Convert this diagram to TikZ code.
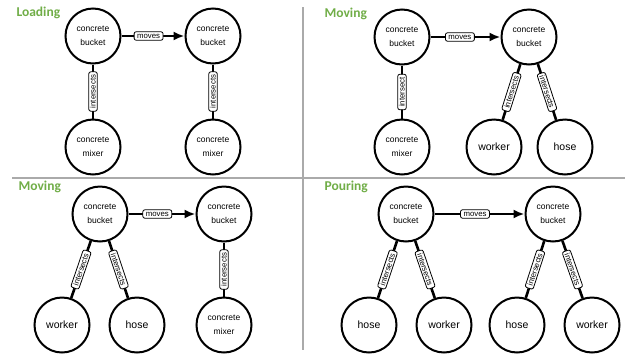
\documentclass[tikz,border=0pt]{standalone}
\usepackage{fontspec}
\setmainfont{Liberation Sans}
\newfontfamily\titlefont{Carlito}
\usetikzlibrary{arrows.meta}
\definecolor{titlegreen}{RGB}{112,173,71}
\definecolor{rulegray}{RGB}{170,170,170}
\tikzset{
	ent/.style={draw, circle, line width=2pt, minimum size=55pt, inner sep=0pt, align=center, font=\fontsize{8.5}{14}\selectfont},
	big/.style={font=\fontsize{10.5}{12}\selectfont},
	rel/.style={line width=2.6pt},
	moves/.style={rel, -{Latex[length=11pt,width=9pt]}},
	lbl/.style={draw, fill=white, rounded corners=2pt, line width=0.8pt, inner xsep=3pt, inner ysep=1.5pt, text height=5.4pt, text depth=0pt, font=\fontsize{7.8}{8}\selectfont},
	ttl/.style={anchor=west, text=titlegreen, font=\titlefont\bfseries\fontsize{13.5}{14}\selectfont},
	rule/.style={rulegray, line width=2pt}
}

\begin{document}
\begin{tikzpicture}[x=1pt, y=-1pt]
		%%%%% START %%%%%
		\useasboundingbox (0, 0) rectangle (629, 354);
		\draw[rule] (12, 178) -- (625, 178);
		\draw[rule] (303, 7) -- (303, 350);
		
		\node[ttl] (tLoad) at (13, 13) {Loading};
		\node[ent] (a1) at (93, 36) {concrete\\bucket};
		\node[ent] (a2) at (213, 36) {concrete\\bucket};
		\node[ent] (a3) at (93, 147) {concrete\\mixer};
		\node[ent] (a4) at (213, 147) {concrete\\mixer};
		\draw[moves] (a1) -- node[lbl, pos=0.43] {moves} (a2);
		\draw[rel] (a1) -- node[lbl, rotate=90] {intersects} (a3);
		\draw[rel] (a2) -- node[lbl, rotate=90] {intersects} (a4);
		
		\node[ttl] (tMove) at (321, 14) {Moving};
		\node[ent] (b1) at (402, 37) {concrete\\bucket};
		\node[ent] (b2) at (529, 37) {concrete\\bucket};
		\node[ent] (b3) at (402, 147) {concrete\\mixer};
		\node[ent, big] (b4) at (494, 147) {worker};
		\node[ent, big] (b5) at (565, 147) {hose};
		\draw[moves] (b1) -- node[lbl, pos=0.42] {moves} (b2);
		\draw[rel] (b1) -- node[lbl, rotate=90] {intersect} (b3);
		\draw[rel] (b2) -- node[lbl, sloped] {intersects} (b4);
		\draw[rel] (b2) -- node[lbl, sloped] {intersects} (b5);
		
		\node[ttl] (tMoveB) at (15, 187) {Moving};
		\node[ent] (c1) at (100, 214) {concrete\\bucket};
		\node[ent] (c2) at (224, 214) {concrete\\bucket};
		\node[ent, big] (c3) at (62, 325) {worker};
		\node[ent, big] (c4) at (137, 325) {hose};
		\node[ent] (c5) at (224, 325) {concrete\\mixer};
		\draw[moves] (c1) -- node[lbl, pos=0.43] {moves} (c2);
		\draw[rel] (c1) -- node[lbl, sloped] {intersects} (c3);
		\draw[rel] (c1) -- node[lbl, sloped] {intersects} (c4);
		\draw[rel] (c2) -- node[lbl, rotate=90] {intersects} (c5);
		
		\node[ttl] (tPour) at (321, 187) {Pouring};
		\node[ent] (d1) at (406, 214) {concrete\\bucket};
		\node[ent] (d2) at (553, 214) {concrete\\bucket};
		\node[ent, big] (d3) at (369, 325) {hose};
		\node[ent, big] (d4) at (444, 325) {worker};
		\node[ent, big] (d5) at (517, 325) {hose};
		\node[ent, big] (d6) at (592, 325) {worker};
		\draw[moves] (d1) -- node[lbl, pos=0.45] {moves} (d2);
		\draw[rel] (d1) -- node[lbl, sloped] {intersects} (d3);
		\draw[rel] (d1) -- node[lbl, sloped] {intersects} (d4);
		\draw[rel] (d2) -- node[lbl, sloped] {intersects} (d5);
		\draw[rel] (d2) -- node[lbl, sloped] {intersects} (d6);
		%%%%% END %%%%%
\end{tikzpicture}
\end{document}
